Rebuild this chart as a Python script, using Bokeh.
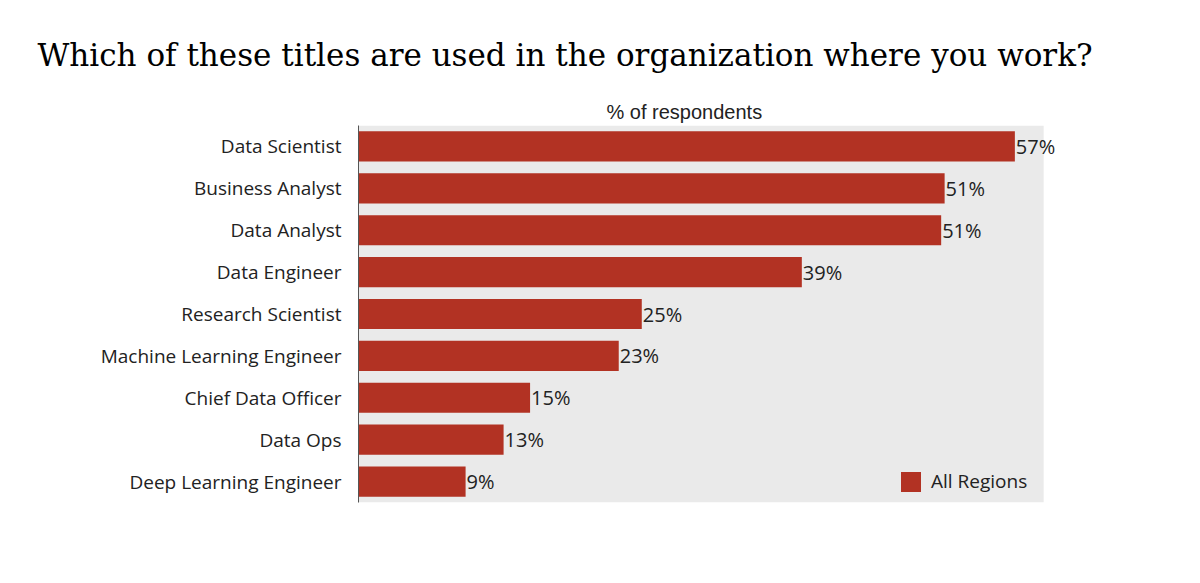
from bokeh.plotting import figure
from bokeh.models import (ColumnDataSource, FactorRange, Range1d, LabelSet, Title,
                          Legend, LegendItem, BoxAnnotation)
from bokeh.core.properties import value
from bokeh.embed import file_html
from bokeh.resources import INLINE

categories = ["Data Scientist", "Business Analyst", "Data Analyst", "Data Engineer",
              "Research Scientist", "Machine Learning Engineer", "Chief Data Officer",
              "Data Ops", "Deep Learning Engineer"]
values = [57.0, 50.9, 50.6, 38.5, 24.6, 22.6, 14.9, 12.6, 9.3]
value_labels = ["57%", "51%", "51%", "39%", "25%", "23%", "15%", "13%", "9%"]
series_name = "All Regions"
title_text = "Which of these titles are used in the organization where you work?"
axis_title = "% of respondents"

BAR = "#B23223"
TXT = "#222222"
GREY_END = 59.5   # extent of the grey panel, in axis units
X_END = 66.0

src = ColumnDataSource(dict(cat=categories, val=values, lab=value_labels))

PX_PER_UNIT = 11.515
FRAME_W = X_END * PX_PER_UNIT
W, H = 1184, 560
LEFT, TOP, FRAME_H = 358, 125, 377

p = figure(width=W, height=H, output_backend="svg", toolbar_location=None,
           y_range=FactorRange(factors=list(reversed(categories)), range_padding=0),
           x_range=Range1d(0, X_END), x_axis_location=None)
p.min_border_left = LEFT
p.min_border_right = int(W - LEFT - FRAME_W)
p.min_border_top = TOP
p.min_border_bottom = H - TOP - FRAME_H
p.background_fill_color = "white"
p.border_fill_color = "white"
p.outline_line_color = None
p.grid.visible = False

p.add_layout(BoxAnnotation(left=0, right=GREY_END, fill_color="#EAEAEA",
                           fill_alpha=1, line_color=None, level="underlay"))

r = p.hbar(y="cat", right="val", left=0, height=0.72, source=src,
           fill_color=BAR, line_color=None)

ax = p.yaxis[0]
ax.axis_line_color = "#555555"
ax.axis_line_width = 1
ax.major_tick_line_color = None
ax.minor_tick_line_color = None
ax.major_label_standoff = 11
ax.major_label_text_font = "Open Sans"
ax.major_label_text_font_size = "19px"
ax.major_label_text_color = TXT

p.add_layout(LabelSet(x="val", y="cat", text="lab", source=src, x_offset=1,
                      text_font=value("Open Sans"), text_font_size=value("20px"),
                      text_color=value(TXT), text_baseline="middle", text_align="left"))

p.add_layout(Title(text=axis_title, align="left", offset=248,
                   text_font="Liberation Sans", text_font_size="20px",
                   text_font_style="normal", text_color=TXT, standoff=5), "above")
p.add_layout(Title(text=title_text, align="left", offset=-321,
                   text_font="DejaVu Serif", text_font_size="31px",
                   text_font_style="normal", text_color="black", standoff=47), "above")

leg = Legend(items=[LegendItem(label=series_name, renderers=[r])],
             location=(540, 8), padding=0, margin=0, spacing=0,
             glyph_width=25, glyph_height=25, label_standoff=8,
             label_text_font="Open Sans", label_text_font_size="19px",
             label_text_color=TXT, background_fill_alpha=0, border_line_color=None)
p.add_layout(leg)

open("out.html", "w").write(file_html(p, INLINE))
